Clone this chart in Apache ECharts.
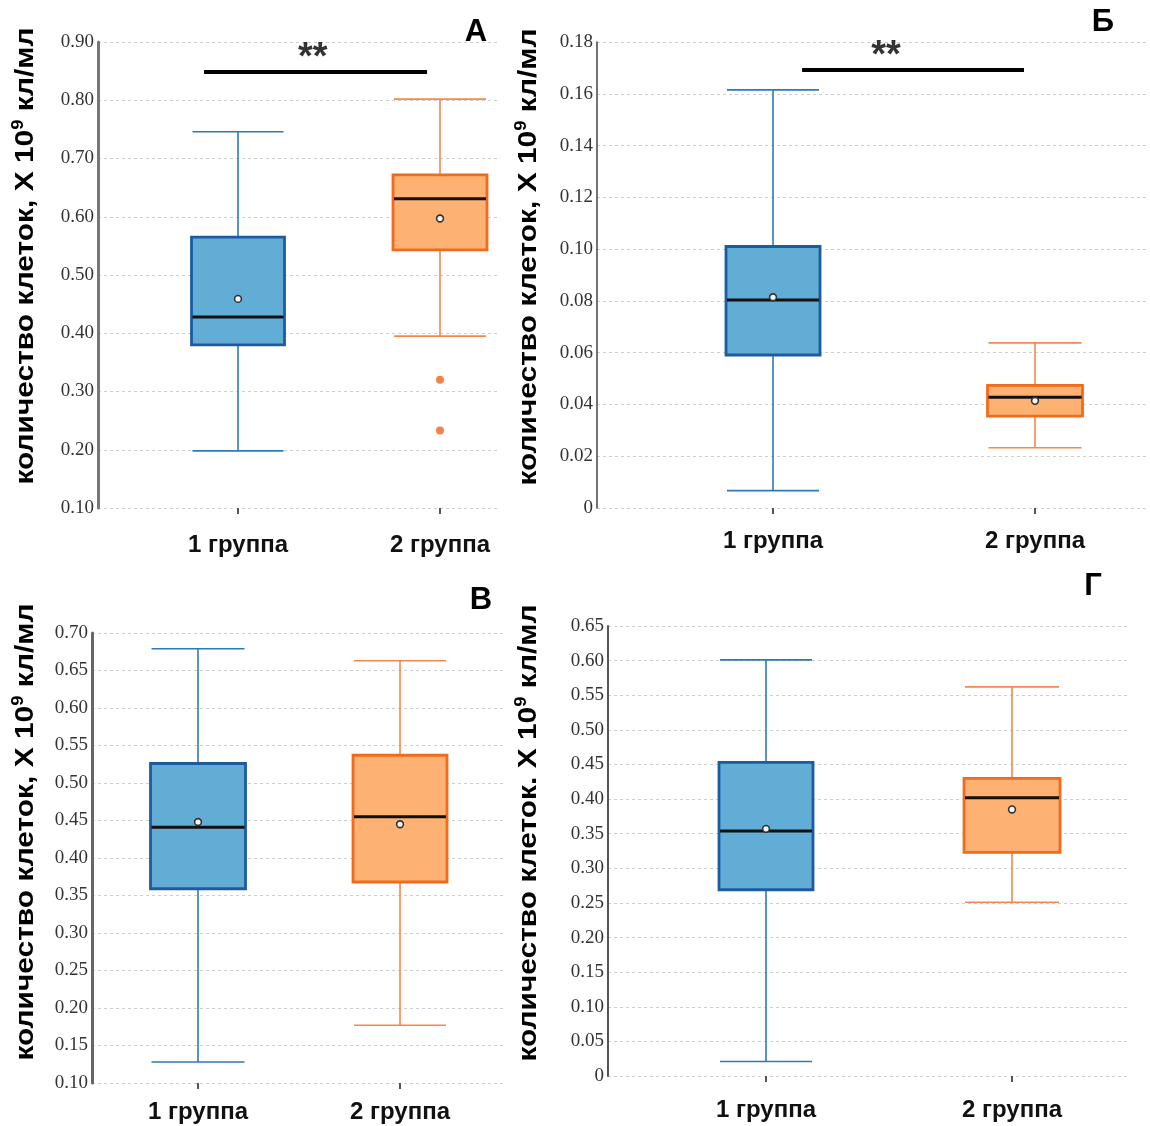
<!DOCTYPE html>
<html>
<head>
<meta charset="utf-8">
<script src="https://cdn.jsdelivr.net/npm/echarts@6/dist/echarts.min.js"></script>
<style>html,body{margin:0;padding:0;background:#fff}#c{width:1150px;height:1126px}</style>
</head>
<body>
<div id="c"></div>
<script>
// ---- DATA ----
const categories = ['1 группа', '2 группа'];
// each box: [x, lowerWhisker, Q1, median, Q3, upperWhisker, mean]
const boxA1 = [1, 0.198, 0.380, 0.428, 0.565, 0.746, 0.459];
const boxA2 = [2, 0.395, 0.543, 0.631, 0.672, 0.802, 0.597];
const outliersA2 = [[2, 0.320], [2, 0.233]];
const boxB1 = [1, 0.0067, 0.0591, 0.0803, 0.1010, 0.1615, 0.0814];
const boxB2 = [2, 0.0233, 0.0355, 0.0428, 0.0474, 0.0638, 0.0414];
const boxC1 = [1, 0.128, 0.359, 0.441, 0.526, 0.679, 0.448];
const boxC2 = [2, 0.177, 0.368, 0.455, 0.537, 0.663, 0.445];
const boxD1 = [1, 0.021, 0.269, 0.354, 0.453, 0.601, 0.357];
const boxD2 = [2, 0.251, 0.323, 0.402, 0.430, 0.562, 0.385];
// significance brackets: [[xStart, y], [xEnd, y]] and star position
const sigA = [[0.832, 0.8485], [1.936, 0.8485]];
const sigAStar = [[1.370, 0.8485]];
const sigB = [[1.111, 0.1692], [1.958, 0.1692]];
const sigBStar = [[1.431, 0.1692]];
const panelLetters = ['А', 'Б', 'В', 'Г'];
const yTitle = 'количество клеток, Х 10';
const yTitleD = 'количество клеток. Х 10';

// ---- STYLES ----
const blue = {fill: '#62ADD6', border: '#1C5C9E', whisker: '#2C7BB6'};
const orange = {fill: '#FDB273', border: '#F26A1C', whisker: '#F5884A'};

function boxSeries(gi, data, col, boxW) {
  return {
    type: 'custom', xAxisIndex: gi, yAxisIndex: gi, data: [data],
    encode: {x: 0, y: [1, 5]}, z: 3,
    renderItem: function (params, api) {
      const x = api.value(0);
      const p = v => api.coord([x, api.value(v)]);
      const lo = p(1), q1 = p(2), md = p(3), q3 = p(4), hi = p(5), mn = p(6);
      const cx = lo[0], h = boxW / 2;
      const wl = {stroke: col.whisker, lineWidth: 1.6};
      return {type: 'group', children: [
        {type: 'line', shape: {x1: cx, y1: hi[1], x2: cx, y2: q3[1]}, style: wl},
        {type: 'line', shape: {x1: cx, y1: q1[1], x2: cx, y2: lo[1]}, style: wl},
        {type: 'line', shape: {x1: cx - h + 1, y1: hi[1], x2: cx + h - 1, y2: hi[1]}, style: wl},
        {type: 'line', shape: {x1: cx - h + 1, y1: lo[1], x2: cx + h - 1, y2: lo[1]}, style: wl},
        {type: 'rect', shape: {x: cx - h, y: q3[1], width: boxW, height: q1[1] - q3[1]},
          style: {fill: col.fill, stroke: col.border, lineWidth: 2.8}},
        {type: 'line', shape: {x1: cx - h + 1, y1: md[1], x2: cx + h - 1, y2: md[1]}, style: {stroke: '#111', lineWidth: 3}},
        {type: 'circle', shape: {cx: cx, cy: mn[1], r: 3.4}, style: {fill: '#f4f4f4', stroke: '#333', lineWidth: 1.6}}
      ]};
    }
  };
}

const grids = [
  {left: 98, top: 42, width: 402, height: 466},
  {left: 597, top: 42, width: 551, height: 466},
  {left: 92, top: 633, width: 412, height: 450},
  {left: 608, top: 626, width: 520, height: 450}
];
const xRanges = [[0.3069, 2.2970], [0.3282, 2.4313], [0.4752, 2.5148], [0.3577, 2.4715]];
const yRanges = [[0.1, 0.9, 0.1], [0, 0.18, 0.02], [0.1, 0.7, 0.05], [0, 0.65, 0.05]];
const yLineStyle = [{color: '#777', width: 3}, {color: '#444', width: 1.5}, {color: '#666', width: 3}, {color: '#555', width: 2}];
const labelMargins = [25, 21, 17, 22];

const xAxes = grids.map((g, i) => ({
  type: 'value', gridIndex: i, min: xRanges[i][0], max: xRanges[i][1],
  axisLine: {show: false}, splitLine: {show: false},
  axisTick: {show: true, customValues: [1, 2], length: 6, lineStyle: {color: '#555', width: 2}},
  axisLabel: {customValues: [1, 2], formatter: v => categories[Math.round(v) - 1], margin: labelMargins[i],
    fontFamily: 'Liberation Sans, Arial, sans-serif', fontWeight: 'bold', fontSize: 24, color: '#111'}
}));
const yAxes = grids.map((g, i) => ({
  type: 'value', gridIndex: i, min: yRanges[i][0], max: yRanges[i][1], interval: yRanges[i][2],
  axisLine: {show: true, lineStyle: yLineStyle[i]}, axisTick: {show: false},
  splitLine: {show: true, lineStyle: {color: '#cfcfcf', type: [3, 3], width: 1}},
  axisLabel: {margin: 4, fontFamily: 'Liberation Serif, Times New Roman, serif', fontSize: 19, color: '#333',
    formatter: v => (Math.abs(v) < 1e-9 ? '0' : v.toFixed(2))}
}));

function sigLine(gi, pts) {
  return {type: 'line', xAxisIndex: gi, yAxisIndex: gi, data: pts, symbol: 'none', z: 4,
    lineStyle: {color: '#000', width: 4}, silent: true};
}
function sigStar(gi, pts) {
  return {type: 'scatter', xAxisIndex: gi, yAxisIndex: gi, data: pts, symbolSize: 0, z: 4,
    label: {show: true, position: 'top', distance: -6, formatter: '**',
      fontFamily: 'Liberation Sans, Arial, sans-serif', fontWeight: 'bold', fontSize: 38, color: '#000'}};
}

function titleText(x, y, t) {
  return {type: 'text', x: x, y: y, rotation: Math.PI / 2, scaleX: 1.15,
    style: {text: '{b|' + t + '}{s|9}{b| кл/мл}', align: 'center', verticalAlign: 'middle',
      rich: {
        b: {font: 'bold 26px "Liberation Sans", Arial, sans-serif', fill: '#000', lineHeight: 30},
        s: {font: 'bold 16px "Liberation Sans", Arial, sans-serif', fill: '#000', verticalAlign: 'top', lineHeight: 16}
      }}};
}
function letter(x, y, t) {
  return {type: 'text', x: x, y: y,
    style: {text: t, align: 'center', verticalAlign: 'middle', fill: '#000',
      font: 'bold 31px "Liberation Sans", Arial, sans-serif'}};
}

const option = {
  backgroundColor: '#fff',
  animation: false,
  grid: grids,
  xAxis: xAxes,
  yAxis: yAxes,
  series: [
    boxSeries(0, boxA1, blue, 93), boxSeries(0, boxA2, orange, 94),
    {type: 'scatter', xAxisIndex: 0, yAxisIndex: 0, data: outliersA2, symbolSize: 8, z: 4,
      itemStyle: {color: '#F4621A'}},
    boxSeries(1, boxB1, blue, 94), boxSeries(1, boxB2, orange, 95),
    boxSeries(2, boxC1, blue, 95), boxSeries(2, boxC2, orange, 94),
    boxSeries(3, boxD1, blue, 94), boxSeries(3, boxD2, orange, 96),
    sigLine(0, sigA), sigStar(0, sigAStar),
    sigLine(1, sigB), sigStar(1, sigBStar)
  ],
  graphic: [
    titleText(26, 256, yTitle), titleText(529, 257, yTitle),
    titleText(26, 832, yTitle), titleText(529, 833, yTitleD),
    letter(476, 32, panelLetters[0]), letter(1103, 22, panelLetters[1]),
    letter(481, 600, panelLetters[2]), letter(1093, 586, panelLetters[3])
  ]
};
const chart = echarts.init(document.getElementById('c'), null, {renderer: 'canvas'});
chart.setOption(option);
</script>
</body>
</html>
